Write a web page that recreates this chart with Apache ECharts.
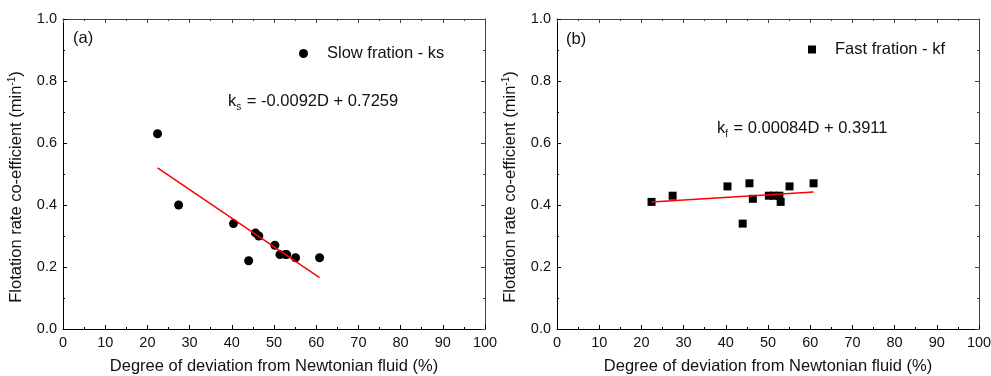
<!DOCTYPE html>
<html>
<head>
<meta charset="utf-8">
<script src="https://cdn.jsdelivr.net/npm/echarts@6/dist/echarts.min.js"></script>
<style>
html,body{margin:0;padding:0;background:#fff;}
#main{width:991px;height:376px;}
</style>
</head>
<body>
<div id="main"></div>
<script>
// ---- data ----
var degree = [22.4, 27.4, 40.4, 44.0, 45.6, 46.4, 50.2, 51.4, 52.7, 53.0, 55.1, 60.8];
var slowK  = [0.63, 0.40, 0.34, 0.22, 0.31, 0.30, 0.27, 0.24, 0.24, 0.24, 0.23, 0.23];
var fastK  = [0.41, 0.43, 0.46, 0.34, 0.47, 0.42, 0.43, 0.43, 0.43, 0.41, 0.46, 0.47];
var fitX    = [22.4, 60.8];
var fitSlow = [0.520, 0.166];
var fitFast = [0.410, 0.442];
var xTicks = [0, 10, 20, 30, 40, 50, 60, 70, 80, 90, 100];
var yTicks = [0.0, 0.2, 0.4, 0.6, 0.8, 1.0];

function pairs(xs, ys){ return xs.map(function(x,i){ return [x, ys[i]]; }); }

var FONT = 'Liberation Sans, Arial, sans-serif';
var TXT = '#111';
var FS = 16.5;

function xAxisMain(gi){
  return {
    type:'value', gridIndex:gi, min:xTicks[0], max:xTicks[xTicks.length-1], interval:10,
    name:'Degree of deviation from Newtonian fluid (%)', nameLocation:'middle', nameGap:29,
    nameTextStyle:{fontFamily:FONT, fontSize:FS, color:TXT},
    axisLine:{show:true, onZero:false, lineStyle:{color:'#000', width:1}},
    axisTick:{show:true, inside:true, length:4, lineStyle:{color:'#000'}},
    minorTick:{show:true, splitNumber:2, length:2, lineStyle:{color:'#000'}},
    axisLabel:{fontFamily:FONT, fontSize:14.5, color:TXT, margin:6},
    splitLine:{show:false}
  };
}
function xAxisTop(gi){
  return {
    type:'value', gridIndex:gi, position:'top', min:0, max:100, interval:10,
    axisLine:{show:true, onZero:false, lineStyle:{color:'#444', width:1}},
    axisTick:{show:true, inside:true, length:4, lineStyle:{color:'#444'}},
    minorTick:{show:true, splitNumber:2, length:2, lineStyle:{color:'#444'}},
    axisLabel:{show:false}, splitLine:{show:false}
  };
}
function yAxisMain(gi){
  return {
    type:'value', gridIndex:gi, min:yTicks[0], max:yTicks[yTicks.length-1], interval:0.2,
    name:'Flotation rate co-efficient (min{sup|-1})', nameLocation:'middle', nameGap:37,
    nameTextStyle:{fontFamily:FONT, fontSize:FS, color:TXT, padding:[0,26,0,0],
      rich:{sup:{fontFamily:FONT, fontSize:10, color:TXT, verticalAlign:'top', padding:[0,0,9,0]}}},
    axisLine:{show:true, onZero:false, lineStyle:{color:'#000', width:1}},
    axisTick:{show:true, inside:true, length:4, lineStyle:{color:'#000'}},
    minorTick:{show:true, splitNumber:2, length:2, lineStyle:{color:'#000'}},
    axisLabel:{fontFamily:FONT, fontSize:14.5, color:TXT, margin:6,
      formatter:function(v){ return v.toFixed(1); }},
    splitLine:{show:false}
  };
}
function yAxisRight(gi){
  return {
    type:'value', gridIndex:gi, position:'right', min:0, max:1, interval:0.2,
    axisLine:{show:true, onZero:false, lineStyle:{color:'#444', width:1}},
    axisTick:{show:true, inside:true, length:4, lineStyle:{color:'#444'}},
    minorTick:{show:true, splitNumber:2, length:2, lineStyle:{color:'#444'}},
    axisLabel:{show:false}, splitLine:{show:false}
  };
}

var option = {
  backgroundColor:'#fff',
  animation:false,
  grid:[
    {left:63, top:19, width:422, height:310, containLabel:false, outerBoundsMode:'none'},
    {left:557, top:19, width:422, height:310, containLabel:false, outerBoundsMode:'none'}
  ],
  xAxis:[xAxisMain(0), xAxisTop(0), xAxisMain(1), xAxisTop(1)],
  yAxis:[yAxisMain(0), yAxisRight(0), yAxisMain(1), yAxisRight(1)],
  legend:[
    {data:['Slow fration - ks'], left:294, top:40, icon:'circle', itemWidth:9, itemHeight:9,
     itemStyle:{opacity:1},
     textStyle:{fontFamily:FONT, fontSize:FS, color:TXT, padding:[0,0,0,14]}},
    {data:['Fast fration - kf'], left:803, top:36, icon:'rect', itemWidth:8, itemHeight:8,
     itemStyle:{opacity:1},
     textStyle:{fontFamily:FONT, fontSize:FS, color:TXT, padding:[0,0,0,14]}}
  ],
  graphic:[
    {type:'text', left:73, top:30, style:{text:'(a)', font:FS+'px '+FONT, fill:TXT}},
    {type:'text', left:566, top:31, style:{text:'(b)', font:FS+'px '+FONT, fill:TXT}},
    {type:'text', left:228, top:93, style:{
      text:'k{sub|s} = -0.0092D + 0.7259', font:FS+'px '+FONT, fill:TXT,
      rich:{sub:{fontSize:10, fontFamily:FONT, fill:TXT, verticalAlign:'bottom', padding:[11,1,0,0]}}}},
    {type:'text', left:717, top:120, style:{
      text:'k{sub|f} = 0.00084D + 0.3911', font:FS+'px '+FONT, fill:TXT,
      rich:{sub:{fontSize:10, fontFamily:FONT, fill:TXT, verticalAlign:'bottom', padding:[11,1,0,0]}}}}
  ],
  series:[
    {name:'Slow fration - ks', type:'scatter', xAxisIndex:0, yAxisIndex:0,
     symbol:'circle', symbolSize:9, itemStyle:{color:'#000', opacity:1}, data:pairs(degree, slowK)},
    {name:'slowFit', type:'line', xAxisIndex:0, yAxisIndex:0, showSymbol:false, symbol:'none',
     lineStyle:{color:'#ff0000', width:1.5}, data:pairs(fitX, fitSlow)},
    {name:'Fast fration - kf', type:'scatter', xAxisIndex:2, yAxisIndex:2,
     symbol:'rect', symbolSize:8, itemStyle:{color:'#000', opacity:1}, data:pairs(degree, fastK)},
    {name:'fastFit', type:'line', xAxisIndex:2, yAxisIndex:2, showSymbol:false, symbol:'none',
     lineStyle:{color:'#ff0000', width:1.5}, data:pairs(fitX, fitFast)}
  ]
};
var chart = echarts.init(document.getElementById('main'), null, {renderer:'canvas'});
chart.setOption(option);
</script>
</body>
</html>
